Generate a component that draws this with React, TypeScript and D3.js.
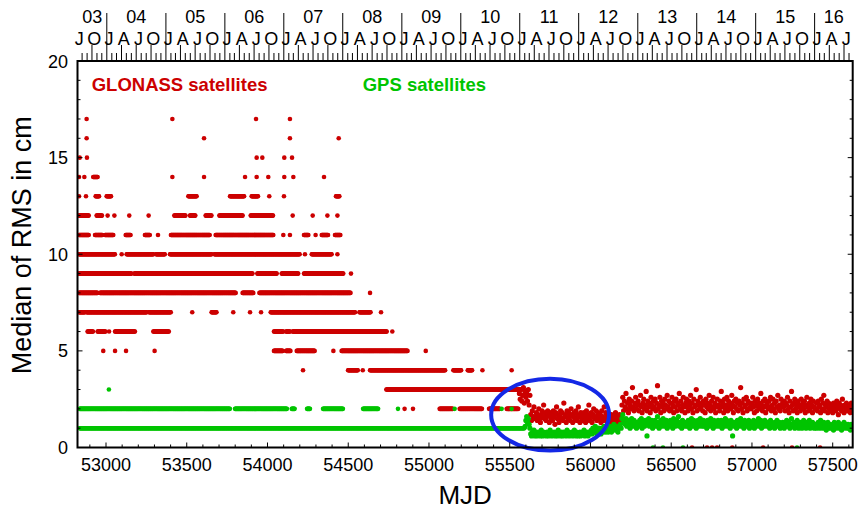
import React from 'react';
import * as d3 from 'd3';

// ---------- data ----------
const xTicks = [53000, 53500, 54000, 54500, 55000, 55500, 56000, 56500, 57000, 57500];
const yTicks = [0, 5, 10, 15, 20];
const quarterLetters: Record<number, string> = { 0: 'J', 3: 'A', 6: 'J', 9: 'O' };
const years = [2003, 2004, 2005, 2006, 2007, 2008, 2009, 2010, 2011, 2012, 2013, 2014, 2015, 2016];

// [level (cm), start MJD, end MJD]  (single point when start == end)
const glonassRuns: [number, number, number][] = [
  [17, 52880, 52880], [17, 53411, 53411], [17, 53929, 53929], [17, 54139, 54139],
  [16, 52880, 52880], [16, 53607, 53607], [16, 54139, 54139], [16, 54441, 54441],
  [15, 52837, 52837], [15, 52882, 52882], [15, 53933, 53933], [15, 53968, 53968], [15, 54104, 54104], [15, 54152, 54152],
  [14, 52833, 52833], [14, 52866, 52866], [14, 52921, 52948], [14, 53411, 53411], [14, 53607, 53607], [14, 53861, 53861],
  [14, 53933, 53933], [14, 54005, 54005], [14, 54104, 54104], [14, 54160, 54160], [14, 54350, 54350],
  [13, 52833, 52833], [13, 52876, 52876], [13, 52936, 52957], [13, 53004, 53031], [13, 53510, 53561], [13, 53768, 53855],
  [13, 53902, 53943], [13, 54011, 54011], [13, 54102, 54102], [13, 54424, 54445],
  [12, 52833, 52895], [12, 52942, 52977], [12, 53010, 53010], [12, 53052, 53052], [12, 53144, 53144], [12, 53264, 53264],
  [12, 53423, 53493], [12, 53520, 53555], [12, 53617, 53654], [12, 53702, 53846], [12, 53896, 54036], [12, 54156, 54156],
  [12, 54280, 54280], [12, 54371, 54371], [12, 54433, 54433],
  [11, 52833, 52895], [11, 52932, 52977], [11, 52994, 53045], [11, 53122, 53153], [11, 53241, 53272], [11, 53322, 53322],
  [11, 53402, 53644], [11, 53679, 54036], [11, 54098, 54098], [11, 54139, 54139], [11, 54226, 54253], [11, 54298, 54298],
  [11, 54336, 54377], [11, 54418, 54453],
  [10, 52833, 53056], [10, 53097, 53097], [10, 53128, 53293], [10, 53310, 53365], [10, 53396, 53654], [10, 53671, 54201],
  [10, 54232, 54232], [10, 54274, 54397], [10, 54433, 54433],
  [9, 52833, 53159], [9, 53175, 53908], [9, 53937, 54057], [9, 54088, 54191], [9, 54226, 54470], [9, 54517, 54517],
  [8, 52833, 52948], [8, 52963, 53805], [8, 53846, 53912], [8, 53950, 54515], [8, 54635, 54635],
  [7, 52833, 52870], [7, 52880, 53252], [7, 53266, 53402], [7, 53534, 53534], [7, 53654, 53685], [7, 53788, 53788],
  [7, 53892, 53892], [7, 53960, 53960], [7, 54020, 54542], [7, 54569, 54639], [7, 54703, 54703],
  [6, 52886, 52921], [6, 52948, 52998], [6, 53019, 53019], [6, 53056, 53180], [6, 53293, 53390], [6, 54040, 54098],
  [6, 54115, 54139], [6, 54156, 54738], [6, 54773, 54773],
  [5, 52983, 52983], [5, 53056, 53056], [5, 53124, 53124], [5, 53301, 53301], [5, 54040, 54094], [5, 54115, 54144],
  [5, 54181, 54294], [5, 54408, 54408], [5, 54459, 54868], [5, 54980, 54980],
  [4, 54220, 54220], [4, 54499, 54560], [4, 54590, 54590], [4, 54635, 55100], [4, 55151, 55199], [4, 55240, 55269],
  [4, 55331, 55331], [4, 55512, 55512],
  [3, 54736, 55572],
  [2, 54849, 54849], [2, 54901, 54901], [2, 55066, 55148], [2, 55190, 55330], [2, 55372, 55440], [2, 55481, 55553],
];

const gpsRuns: [number, number, number][] = [
  [3, 53018, 53018],
  [2, 52837, 53768], [2, 53799, 54121], [2, 54150, 54170], [2, 54245, 54263], [2, 54344, 54468], [2, 54592, 54687],
  [2, 54808, 54808], [2, 55159, 55159], [2, 55450, 55450], [2, 55512, 55512],
  [1, 52837, 55592],
];

// later, non-quantised medians: one value (x0.1 cm) every 5 days
const glonassLateStart = 55560;
const glonassLate =
  '28 25 30 24 27 31 23 29 26 28 24 30 22 27 17 14 19 16 21 15 ' +
  '16 18 14 17 20 15 13 17 19 16 22 15 18 14 16 19 17 13 18 15 ' +
  '17 14 19 16 12 18 21 15 17 13 16 19 15 18 14 23 16 17 13 19 ' +
  '15 18 16 14 20 17 13 16 18 15 19 14 17 21 16 13 18 15 17 14 ' +
  '18 16 13 19 15 17 22 14 16 18 13 17 20 15 16 19 14 18 16 15 ' +
  '17 13 19 16 14 21 15 18 16 13 17 15 ' +
  '15 12 17 14 11 16 13 18 15 12 16 14 17 13 15 ' +
  '22 26 19 24 21 28 20 23 18 25 22 20 24 31 21 19 23 26 20 22 ' +
  '24 19 22 27 21 18 23 25 20 22 29 19 24 21 23 18 26 22 20 24 ' +
  '21 25 19 23 32 20 22 26 18 24 21 23 19 25 22 20 27 21 24 19 ' +
  '23 20 26 22 18 24 21 25 19 23 22 28 20 24 19 22 26 21 18 23 ' +
  '25 21 19 24 22 27 20 23 18 25 21 22 30 19 24 22 20 26 21 23 ' +
  '19 24 22 18 25 21 23 20 27 22 19 24 21 26 20 23 18 22 25 21 ' +
  '22 19 24 29 21 23 18 25 20 22 26 19 24 21 23 20 27 22 18 24 ' +
  '21 25 20 23 19 24 22 31 20 23 18 25 21 22 26 19 24 20 23 21 ' +
  '20 23 26 21 18 24 22 19 25 21 23 20 28 22 19 24 21 25 18 22 ' +
  '23 20 24 21 26 19 22 25 20 23 18 24 21 27 20 22 19 25 21 23 ' +
  '21 24 19 23 22 26 20 18 24 21 29 22 19 23 25 20 22 18 24 21 ' +
  '22 19 25 21 23 20 24 18 22 26 21 19 23 20 25 22 18 24 21 20 ' +
  '20 23 19 24 21 22 18 25 20 23 27 19 22 21 24 18 23 20 22 19 ' +
  '21 18 23 20 22 19 24 21 17 23 20 22 19 25 21 18 22 20 23 19 ' +
  '21 19 22 18 23 20';

const gpsLateStart = 55595;
const gpsLate =
  '11 14 16 13 15 12 10 ' +
  '07 06 08 07 09 06 07 08 06 07 08 07 06 09 07 06 08 07 07 06 ' +
  '08 07 06 07 09 08 06 07 07 08 06 07 08 06 09 07 07 06 08 07 ' +
  '06 08 07 07 06 09 07 08 06 07 07 08 06 07 09 07 06 08 07 06 ' +
  '07 08 06 07 08 07 09 06 07 08 07 06 08 07 ' +
  '08 09 07 10 08 09 11 08 07 09 10 08 09 07 10 09 08 11 09 08 ' +
  '10 09 08 10 11 09 08 10 09 12 10 09 11 10 08 10 11 12 10 ' +
  '15 17 13 14 12 15 11 13 12 14 10 13 15 12 11 14 12 13 10 12 ' +
  '13 11 14 12 15 10 13 12 11 14 13 06 12 15 11 13 12 14 10 13 ' +
  '12 14 11 13 16 12 10 13 14 11 12 15 13 11 12 14 10 13 12 11 ' +
  '14 12 13 10 15 12 11 13 14 12 16 11 13 12 10 14 12 13 11 12 ' +
  '13 11 14 12 10 13 15 12 11 14 12 13 10 12 14 11 13 15 12 11 ' +
  '12 14 11 13 12 10 14 13 11 12 15 12 13 10 14 12 11 13 12 14 ' +
  '11 13 12 14 10 12 13 11 15 12 14 11 13 12 10 14 12 06 13 11 ' +
  '13 12 10 14 11 13 12 15 11 12 13 10 14 12 11 13 12 14 10 12 ' +
  '12 11 13 14 10 12 11 13 12 15 11 12 14 10 13 12 11 14 12 13 ' +
  '11 13 12 10 14 12 13 11 12 10 13 12 14 11 12 13 10 12 11 13 ' +
  '12 10 13 11 14 12 11 13 10 12 15 11 12 13 10 12 11 14 12 10 ' +
  '11 13 12 10 12 14 11 12 10 13 11 12 14 10 12 11 13 12 10 11 ' +
  '12 10 11 13 12 10 14 11 12 10 13 11 12 09 11 13 10 12 11 10 ' +
  '11 12 09 13 11 10 12 11 13 10 11 12 09 11 10 13 11 12 10 11 ' +
  '12 10 11 09 12 11';

const glonassZero = [56629, 56722, 56753, 56784, 56878, 57069, 57248, 57422];
const gpsZero = [56387, 56449, 56573, 57279];

// highlighted period (blue ellipse)
const highlight = { mjd: 55750, value: 1.7, halfDays: 365, halfValue: 1.86 };

// ---------- helpers ----------
type P = { x: number; y: number; late?: boolean };
function expandRuns(runs: [number, number, number][], step: number): P[] {
  const out: P[] = [];
  runs.forEach(([lvl, s, e]) => {
    if (e <= s) out.push({ x: s, y: lvl });
    else for (let d = s; d <= e; d += step) out.push({ x: d, y: lvl });
  });
  return out;
}
function decodeLate(start: number, codes: string): P[] {
  return codes.trim().split(/\s+/).map((c, i) => ({ x: start + i * 5, y: parseInt(c, 10) / 10, late: true }));
}
const toMJD = (y: number, m: number, d: number) => Date.UTC(y, m, d) / 86400000 + 40587;

const RED = '#cc0000';
const GREEN = '#00c400';
const FONT = '"Liberation Sans", Arial, Helvetica, sans-serif';

export default function App() {
  const W = 861, H = 510;
  const L = 77.5, R = 852.7, T = 61, B = 447.5;
  const x = d3.scaleLinear().domain([52823.5, 57623.8]).range([L, R]);
  const y = d3.scaleLinear().domain([0, 20]).range([B, T]);

  const gl = [
    ...expandRuns(glonassRuns, 3),
    ...decodeLate(glonassLateStart, glonassLate),
    ...glonassZero.map((d) => ({ x: d, y: 0 })),
  ];
  const gp = [
    ...expandRuns(gpsRuns, 3),
    ...decodeLate(gpsLateStart, gpsLate),
    ...gpsZero.map((d) => ({ x: d, y: 0 })),
  ];

  const [d0, d1] = x.domain();
  const monthTicks: { mjd: number; kind: number }[] = [];
  years.forEach((yr) => {
    for (let m = 0; m < 12; m++) {
      const mjd = toMJD(yr, m, 1);
      if (mjd < d0 || mjd > d1) continue;
      monthTicks.push({ mjd, kind: m === 0 ? 2 : m % 3 === 0 ? 1 : 0 });
    }
  });
  const quarterLabels: { mjd: number; t: string }[] = [];
  years.forEach((yr) => {
    [0, 3, 6, 9].forEach((m) => {
      const mjd = toMJD(yr, m, 15);
      if (mjd >= d0 && mjd <= d1) quarterLabels.push({ mjd, t: quarterLetters[m] });
    });
  });
  const yearLabels = years.map((yr) => {
    const a = Math.max(toMJD(yr, 0, 1), d0);
    const b = Math.min(toMJD(yr + 1, 0, 1), d1);
    return { c: (x(a) + x(b)) / 2, t: String(yr % 100).padStart(2, '0') };
  });

  const minorX = d3.range(52900, 57700, 100).filter((v) => v >= d0 && v <= d1);
  const minorY = d3.range(0, 21, 1);
  const rad = (p: P) => (p.late ? 2.6 : 2.3);

  return (
    <svg width={W} height={H} style={{ position: 'absolute', left: 0, top: 0, background: '#fff' }}
      fontFamily={FONT}>
      <defs>
        <clipPath id="plot"><rect x={L} y={T} width={R - L} height={B - T} /></clipPath>
      </defs>
      <rect x={0} y={0} width={W} height={H} fill="#fff" />
      <g clipPath="url(#plot)">
        {gl.map((p, i) => <circle key={'g' + i} cx={x(p.x)} cy={y(p.y)} r={rad(p)} fill={RED} />)}
        {gp.map((p, i) => <circle key={'p' + i} cx={x(p.x)} cy={y(p.y)} r={rad(p)} fill={GREEN} />)}
      </g>
      <ellipse cx={x(highlight.mjd)} cy={y(highlight.value)}
        rx={x(highlight.mjd + highlight.halfDays) - x(highlight.mjd)}
        ry={y(0) - y(highlight.halfValue)} fill="none" stroke="#1428e6" strokeWidth={4} />

      {/* frame */}
      <rect x={L} y={T} width={R - L} height={B - T} fill="none" stroke="#000" strokeWidth={2} />

      {/* bottom axis ticks (inward) */}
      {minorX.map((v) => {
        const len = v % 500 === 0 ? 5 : 3;
        return <line key={'bx' + v} x1={x(v)} x2={x(v)} y1={B} y2={B - len} stroke="#000" strokeWidth={1} />;
      })}
      {xTicks.map((v) => (
        <text key={'xl' + v} x={x(v)} y={470.5} fontSize={18} textAnchor="middle" fill="#000">{v}</text>
      ))}

      {/* y ticks left & right */}
      {minorY.map((v) => {
        const len = v % 5 === 0 ? 5 : 3;
        return (
          <g key={'yt' + v}>
            <line x1={L} x2={L + len} y1={y(v)} y2={y(v)} stroke="#000" strokeWidth={1} />
            <line x1={R} x2={R - len} y1={y(v)} y2={y(v)} stroke="#000" strokeWidth={1} />
          </g>
        );
      })}
      {yTicks.map((v) => (
        <text key={'yl' + v} x={68} y={y(v) + 6.5} fontSize={18} textAnchor="end" fill="#000">{v}</text>
      ))}

      {/* top calendar axis */}
      {monthTicks.map((t) => {
        const len = t.kind === 2 ? 48 : t.kind === 1 ? 16 : 8;
        return <line key={'mt' + t.mjd} x1={x(t.mjd)} x2={x(t.mjd)} y1={T} y2={T - len} stroke="#000" strokeWidth={1} />;
      })}
      {quarterLabels.map((q) => (
        <text key={'ql' + q.mjd} x={x(q.mjd)} y={45} fontSize={18} textAnchor="middle" fill="#000">{q.t}</text>
      ))}
      {yearLabels.map((l) => (
        <text key={'yr' + l.t} x={l.c} y={23.3} fontSize={18} textAnchor="middle" fill="#000">{l.t}</text>
      ))}

      {/* titles */}
      <text x={(L + R) / 2} y={504} fontSize={26} textAnchor="middle" fill="#000">MJD</text>
      <text transform={`translate(31, ${(T + B) / 2 - 9}) rotate(-90)`} fontSize={27} textAnchor="middle" fill="#000">
        Median of RMS in cm
      </text>

      {/* legend */}
      <text x={91.7} y={90.7} fontSize={18.5} fontWeight="bold" fill={RED}>GLONASS satellites</text>
      <text x={362.7} y={90.7} fontSize={18.5} fontWeight="bold" fill={GREEN}>GPS satellites</text>
    </svg>
  );
}
